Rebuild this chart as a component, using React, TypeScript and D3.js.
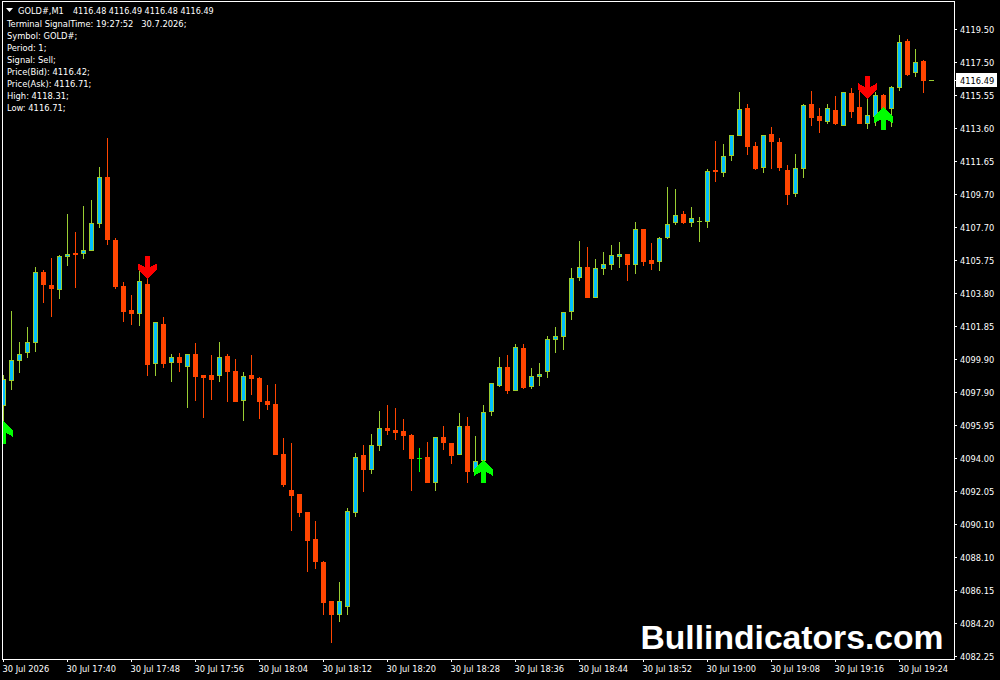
import { useEffect, useRef } from "react";
import * as React from "react";
import { axisBottom, axisRight, scaleLinear, scalePoint, select } from "d3";

const opens = [
  4097.11, 4098.6, 4099.78, 4100.26, 4100.86, 4105.08, 4104.3, 4104.01, 4105.97, 4106.21,
  4106.15, 4106.33, 4107.93, 4110.73, 4106.98, 4104.24, 4102.82, 4102.58, 4104.36, 4099.61,
  4101.98, 4099.67, 4100.02, 4099.43, 4100.2, 4098.95, 4098.95, 4098.89, 4100.08, 4099.19,
  4097.41, 4098.95, 4098.77, 4097.41, 4097.23, 4094.26, 4092.11, 4091.88, 4090.81, 4089.2,
  4087.83, 4085.51, 4084.68, 4085.16, 4090.75, 4094.2, 4093.3, 4094.73, 4095.8, 4095.68,
  4095.62, 4095.38, 4094.02, 4094.08, 4092.53, 4095.27, 4094.91, 4094.2, 4095.92, 4093.18,
  4093.84, 4096.75, 4098.3, 4099.43, 4098.0, 4100.56, 4098.24, 4098.83, 4099.13, 4101.03,
  4101.21, 4102.7, 4104.72, 4105.37, 4103.53, 4105.26, 4105.49, 4105.97, 4106.15, 4105.49,
  4107.63, 4105.79, 4105.67, 4107.1, 4107.99, 4108.53, 4107.99, 4108.05, 4108.05, 4111.14,
  4110.96, 4111.97, 4113.16, 4114.83, 4112.57, 4111.26, 4113.28, 4112.81, 4111.14, 4109.71,
  4111.2, 4115.07, 4114.35, 4114.0, 4114.71, 4113.76, 4115.72, 4114.89, 4113.88, 4114.29,
  4115.6, 4114.77, 4116.02, 4118.81, 4116.91, 4117.62, 4116.48,
];

const highs = [
  4098.95, 4102.76, 4100.91, 4101.81, 4105.37, 4105.2, 4105.91, 4106.09, 4108.53, 4107.46,
  4109.0, 4109.36, 4111.32, 4113.04, 4107.1, 4104.48, 4103.71, 4105.43, 4104.72, 4102.1,
  4102.4, 4100.2, 4100.26, 4100.2, 4100.86, 4098.95, 4100.14, 4100.91, 4100.2, 4099.9,
  4099.13, 4100.14, 4098.83, 4098.36, 4098.42, 4095.21, 4094.91, 4091.88, 4090.81, 4090.27,
  4087.89, 4085.51, 4086.64, 4091.04, 4094.31, 4094.79, 4095.44, 4096.81, 4097.17, 4096.99,
  4096.34, 4095.44, 4094.61, 4094.97, 4095.27, 4095.92, 4094.91, 4096.69, 4096.46, 4095.33,
  4097.17, 4098.48, 4100.02, 4100.14, 4100.8, 4100.8, 4099.37, 4099.67, 4101.27, 4101.81,
  4102.7, 4105.31, 4106.92, 4106.56, 4105.85, 4106.27, 4106.68, 4106.86, 4106.15, 4108.05,
  4107.63, 4106.8, 4107.16, 4110.13, 4110.01, 4108.7, 4108.94, 4108.35, 4111.2, 4112.87,
  4112.69, 4113.22, 4115.78, 4115.07, 4112.81, 4113.22, 4113.7, 4113.04, 4111.44, 4112.09,
  4115.07, 4115.84, 4114.83, 4115.07, 4115.54, 4115.78, 4116.02, 4116.02, 4115.48, 4115.78,
  4115.66, 4116.14, 4119.17, 4118.93, 4118.34, 4117.68, 4116.49,
];

const lows = [
  4095.09, 4098.06, 4099.07, 4099.96, 4100.32, 4103.23, 4102.4, 4103.47, 4105.43, 4104.13,
  4105.85, 4106.33, 4107.69, 4106.68, 4104.07, 4102.1, 4101.93, 4101.87, 4098.89, 4098.89,
  4099.37, 4098.54, 4099.13, 4096.99, 4097.41, 4096.4, 4097.47, 4098.54, 4097.35, 4097.35,
  4096.22, 4097.76, 4096.34, 4096.87, 4094.2, 4092.29, 4089.68, 4090.51, 4087.24, 4087.42,
  4084.68, 4083.02, 4084.27, 4084.68, 4090.51, 4092.0, 4093.07, 4094.43, 4095.38, 4095.09,
  4094.49, 4092.06, 4093.18, 4092.53, 4092.06, 4094.49, 4093.66, 4094.2, 4092.53, 4093.01,
  4093.72, 4096.52, 4098.24, 4097.82, 4098.0, 4098.12, 4098.12, 4098.3, 4098.77, 4100.26,
  4100.44, 4102.22, 4104.54, 4103.53, 4103.53, 4104.9, 4105.2, 4105.31, 4104.54, 4104.96,
  4105.43, 4105.2, 4105.14, 4107.04, 4107.87, 4107.93, 4107.75, 4106.86, 4107.69, 4110.43,
  4110.73, 4111.68, 4113.16, 4112.03, 4111.14, 4110.96, 4111.2, 4111.08, 4109.06, 4109.54,
  4110.67, 4113.76, 4113.34, 4113.88, 4113.82, 4113.76, 4114.23, 4113.88, 4113.58, 4113.76,
  4114.11, 4113.7, 4115.84, 4116.73, 4116.67, 4115.72, 4116.48,
];

const closes = [
  4098.71, 4099.84, 4100.2, 4100.91, 4105.08, 4104.3, 4104.07, 4106.03, 4106.15, 4106.09,
  4106.38, 4107.99, 4110.73, 4106.98, 4104.18, 4102.7, 4102.58, 4104.54, 4099.55, 4102.1,
  4099.61, 4100.02, 4099.67, 4100.2, 4098.83, 4098.77, 4098.66, 4100.02, 4099.13, 4097.35,
  4098.89, 4098.71, 4097.35, 4097.17, 4094.2, 4092.41, 4091.76, 4090.75, 4089.08, 4087.83,
  4085.4, 4084.68, 4085.51, 4090.87, 4094.08, 4093.3, 4094.79, 4095.8, 4095.62, 4095.5,
  4095.33, 4093.96, 4094.02, 4092.53, 4095.27, 4094.91, 4094.14, 4095.92, 4093.18, 4093.84,
  4096.75, 4098.48, 4099.43, 4098.0, 4100.62, 4098.18, 4098.89, 4099.01, 4101.09, 4101.27,
  4102.7, 4104.72, 4105.37, 4103.53, 4105.31, 4105.55, 4106.09, 4106.15, 4105.49, 4107.63,
  4105.67, 4105.55, 4107.1, 4107.93, 4108.47, 4107.99, 4108.29, 4108.11, 4111.08, 4111.02,
  4111.97, 4113.22, 4114.77, 4112.51, 4111.2, 4113.22, 4112.81, 4111.26, 4109.66, 4111.26,
  4115.01, 4114.23, 4114.06, 4114.83, 4113.88, 4115.78, 4114.59, 4113.88, 4114.41, 4115.6,
  4114.41, 4116.08, 4118.75, 4116.79, 4117.56, 4116.43, 4116.49,
];

const priceTicks = [
  "4119.50", "4117.50", "4115.55", "4113.60", "4111.65", "4109.70", "4107.70",
  "4105.75", "4103.80", "4101.85", "4099.90", "4097.90", "4095.95", "4094.00",
  "4092.05", "4090.10", "4088.10", "4086.15", "4084.20", "4082.25",
];

const timeTicks = [0, 8, 16, 24, 32, 40, 48, 56, 64, 72, 80, 88, 96, 104, 112];
const timeLabels = [
  "30 Jul 2026", "30 Jul 17:40", "30 Jul 17:48", "30 Jul 17:56", "30 Jul 18:04",
  "30 Jul 18:12", "30 Jul 18:20", "30 Jul 18:28", "30 Jul 18:36", "30 Jul 18:44",
  "30 Jul 18:52", "30 Jul 19:00", "30 Jul 19:08", "30 Jul 19:16", "30 Jul 19:24",
];

const sellIndex = [18, 108];
const sellPrice = [4104.65, 4115.36];
const buyIndex = [0, 60, 110];
const buyPrice = [4096.22, 4093.9, 4114.87];

const headerSymbol = "GOLD#,M1";
const headerQuote = "4116.48 4116.49 4116.48 4116.49";
const lastPrice = 4116.49;
const commentLines = [
  "Terminal SignalTime: 19:27:52   30.7.2026;",
  "Symbol: GOLD#;",
  "Period: 1;",
  "Signal: Sell;",
  "Price(Bid): 4116.42;",
  "Price(Ask): 4116.71;",
  "High: 4118.31;",
  "Low: 4116.71;",
];

const UP_BORDER = "#9acd32";
const UP_FILL = "#00bfff";
const DOWN = "#ff4500";
const DOJI = "#00ff00";
const LABEL_FONT = "'DejaVu Sans Condensed', 'Liberation Sans', sans-serif";

const frame = { left: 2, top: 1, right: 954, bottom: 659 };

// wick pixel sits at x + 0.5, same offset d3's axis puts on its ticks
const x = scaleLinear().domain([0, 116]).range([3, 931]);
const y = scaleLinear().domain([4082.25, 4119.5]).range([655.9, 29.43]);
const yLabels = scalePoint().domain(priceTicks).range([29, 656]);

// arrow pointing down with its tip at 0,0; buy arrows flip it
const ARROW =
  "M-2.6,-23 L2.6,-23 L2.6,-12 L9.7,-16 L9.7,-9.4 L0,0 L-9.7,-9.4 L-9.7,-16 L-2.6,-12 Z";

function Candle({ i }: { i: number }) {
  const o = opens[i];
  const c = closes[i];
  const px = Math.round(x(i));
  const top = Math.round(y(Math.max(o, c)));
  const bottom = Math.max(Math.round(y(Math.min(o, c))), top + 1);
  const up = c > o;
  const color = o === c ? DOJI : up ? UP_BORDER : DOWN;
  const hi = Math.round(y(highs[i]));
  const lo = Math.round(y(lows[i]));
  return (
    <g>
      <rect x={px} y={hi} width={1} height={lo - hi} fill={color} />
      <rect x={px - 2} y={top} width={5} height={bottom - top} fill={color} />
      {up && bottom - top > 2 && (
        <rect x={px - 1} y={top + 1} width={3} height={bottom - top - 2} fill={UP_FILL} />
      )}
    </g>
  );
}

function PriceAxis() {
  const ref = useRef<SVGGElement>(null);
  useEffect(() => {
    if (ref.current) {
      const g = select(ref.current);
      g.call(axisRight(yLabels).tickSize(3).tickPadding(3));
      g.select(".domain").remove();
      g.selectAll("line").attr("stroke", "#fff");
      g.selectAll("text")
        .attr("fill", "#fff")
        .attr("font-family", LABEL_FONT)
        .attr("font-size", 9.2)
        .attr("y", 1);
    }
  }, []);
  return <g ref={ref} transform={`translate(${frame.right},0)`} />;
}

function TimeAxis() {
  const ref = useRef<SVGGElement>(null);
  useEffect(() => {
    if (ref.current) {
      const g = select(ref.current);
      g.call(
        axisBottom(x)
          .tickValues(timeTicks)
          .tickFormat((d) => timeLabels[timeTicks.indexOf(+d)])
          .tickSize(3)
          .tickPadding(3)
      );
      g.select(".domain").remove();
      g.selectAll("line").attr("stroke", "#fff");
      g.selectAll("text")
        .attr("fill", "#fff")
        .attr("font-family", LABEL_FONT)
        .attr("font-size", 9.2)
        .attr("text-anchor", "start")
        .attr("x", -1);
    }
  }, []);
  return <g ref={ref} transform={`translate(0,${frame.bottom})`} />;
}

export default function App() {
  const lastY = Math.round(y(lastPrice));
  return (
    <svg
      width={1000}
      height={680}
      style={{ position: "fixed", left: 0, top: 0, background: "#000" }}
    >
      <defs>
        <clipPath id="plot">
          <rect
            x={frame.left + 1}
            y={frame.top + 1}
            width={frame.right - frame.left - 1}
            height={frame.bottom - frame.top - 1}
          />
        </clipPath>
      </defs>
      <rect width={1000} height={680} fill="#000" />

      <g clipPath="url(#plot)" shapeRendering="crispEdges">
        {opens.map((_, i) => (
          <Candle key={`candle-${i}`} i={i} />
        ))}
        {sellIndex.map((idx, k) => (
          <path
            key={`sell-${idx}`}
            d={ARROW}
            fill="#ff0000"
            transform={`translate(${x(idx) + 0.5},${y(sellPrice[k])})`}
          />
        ))}
        {buyIndex.map((idx, k) => (
          <path
            key={`buy-${idx}`}
            d={ARROW}
            fill="#00ff00"
            transform={`translate(${x(idx) + 0.5},${y(buyPrice[k])}) scale(1,-1)`}
          />
        ))}
      </g>

      <text
        x={640.5}
        y={649}
        fill="#fff"
        fontFamily="'Liberation Sans', Arial, sans-serif"
        fontWeight="bold"
        fontSize={33.66}
      >
        Bullindicators.com
      </text>

      <rect
        x={frame.left + 0.5}
        y={frame.top + 0.5}
        width={frame.right - frame.left}
        height={frame.bottom - frame.top}
        fill="none"
        stroke="#fff"
        shapeRendering="crispEdges"
      />
      <PriceAxis />
      <TimeAxis />

      <rect x={956} y={lastY - 7} width={41} height={14} fill="#fff" />
      <rect x={954} y={lastY} width={3} height={1} fill="#fff" />
      <text
        x={960}
        y={lastY + 3.5}
        fill="#000"
        fontFamily={LABEL_FONT}
        fontSize={9.2}
      >
        {lastPrice.toFixed(2)}
      </text>

      <path d="M6,8 L13,8 L9.5,12 Z" fill="#fff" />
      <g fill="#fff" fontFamily={LABEL_FONT}>
        <text x={18} y={14} fontSize={9.2}>
          {headerSymbol}
        </text>
        <text x={73} y={14} fontSize={8.95}>
          {headerQuote}
        </text>
        {commentLines.map((line, i) => (
          <text key={line} x={7} y={27 + i * 12} fontSize={9.25} style={{ whiteSpace: "pre" }}>
            {line}
          </text>
        ))}
      </g>
    </svg>
  );
}
